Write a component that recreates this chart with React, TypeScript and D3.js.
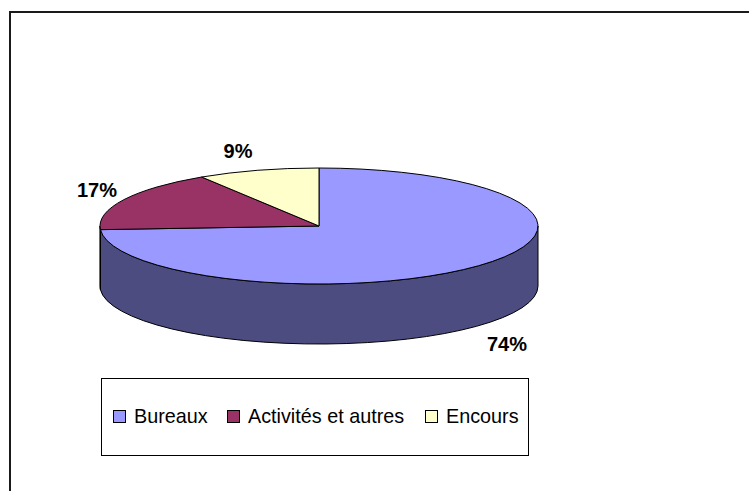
import React, { useRef, useEffect } from "react";
import * as d3 from "d3";

// chart data
const categories = ["Bureaux", "Activités et autres", "Encours"];
const shares = [74, 17, 9];
const topColors = ["#9999FF", "#993366", "#FFFFCC"];
const sideColors = ["#4C4C80", "#4D1A33", "#808066"];
const labelSpots = [
  [507, 351],
  [97, 197],
  [238, 158]
];

const W = 749;
const H = 491;

export default function App() {
  const ref = useRef<SVGGElement>(null);

  useEffect(() => {
    const g = d3.select(ref.current);
    g.selectAll("*").remove();

    const cx = 319;
    const cy = 226;
    const rx = 219;
    const ry = 58;
    const depth = 60;

    // outer chart frame (runs off the right/bottom of the page)
    g.append("rect")
      .attr("x", 10)
      .attr("y", 12)
      .attr("width", W + 20)
      .attr("height", H + 20)
      .attr("fill", "#fff")
      .attr("stroke", "#1a1a1a")
      .attr("stroke-width", 2);

    const pie = d3
      .pie<number>()
      .sort(null)
      .value(d => d);
    const arcs = pie(shares);

    const pt = (a: number, dy = 0) => [cx + rx * Math.sin(a), cy - ry * Math.cos(a) + dy];

    // front side walls, only the half facing us (90deg .. 270deg)
    arcs.forEach((d, i) => {
      const s = Math.max(d.startAngle, Math.PI / 2);
      const e = Math.min(d.endAngle, (3 * Math.PI) / 2);
      if (e <= s) return;
      const [x0, y0] = pt(s);
      const [x1, y1] = pt(e);
      const [x2, y2] = pt(e, depth);
      const [x3, y3] = pt(s, depth);
      const p =
        `M${x0},${y0} A${rx},${ry} 0 0 1 ${x1},${y1} L${x2},${y2} ` +
        `A${rx},${ry} 0 0 0 ${x3},${y3} Z`;
      g.append("path")
        .attr("d", p)
        .attr("fill", sideColors[i])
        .attr("stroke", "#000")
        .attr("stroke-width", 1)
        .attr("stroke-linejoin", "round");
    });

    // top faces
    arcs.forEach((d, i) => {
      const [x0, y0] = pt(d.startAngle);
      const [x1, y1] = pt(d.endAngle);
      const large = d.endAngle - d.startAngle > Math.PI ? 1 : 0;
      g.append("path")
        .attr("d", `M${cx},${cy} L${x0},${y0} A${rx},${ry} 0 ${large} 1 ${x1},${y1} Z`)
        .attr("fill", topColors[i])
        .attr("stroke", "#000")
        .attr("stroke-width", 1)
        .attr("stroke-linejoin", "round");
    });

    // percentage labels
    g.selectAll("text.pct")
      .data(arcs)
      .enter()
      .append("text")
      .attr("class", "pct")
      .attr("x", (d, i) => labelSpots[i][0])
      .attr("y", (d, i) => labelSpots[i][1])
      .attr("text-anchor", "middle")
      .attr("font-family", "Liberation Sans, Arial, sans-serif")
      .attr("font-weight", "bold")
      .attr("font-size", 20)
      .attr("fill", "#000")
      .text(d => `${d.data}%`);

    // legend
    const lg = g.append("g");
    lg.append("rect")
      .attr("x", 101.5)
      .attr("y", 378.5)
      .attr("width", 427)
      .attr("height", 77)
      .attr("fill", "#fff")
      .attr("stroke", "#000")
      .attr("stroke-width", 1);

    const itemX = d3.scaleOrdinal<string, number>().domain(categories).range([113, 227, 425]);
    categories.forEach((c, i) => {
      const x = itemX(c);
      lg.append("rect")
        .attr("x", x + 0.5)
        .attr("y", 410.5)
        .attr("width", 12)
        .attr("height", 12)
        .attr("fill", topColors[i])
        .attr("stroke", "#000")
        .attr("stroke-width", 1);
      lg.append("text")
        .attr("x", x + 21)
        .attr("y", 423)
        .attr("font-family", "Liberation Sans, Arial, sans-serif")
        .attr("font-size", 19.8)
        .attr("fill", "#000")
        .text(c);
    });
  }, []);

  return (
    <svg
      width={W}
      height={H}
      style={{ position: "absolute", left: 0, top: 0, background: "#fff" }}
    >
      <g ref={ref} />
    </svg>
  );
}
